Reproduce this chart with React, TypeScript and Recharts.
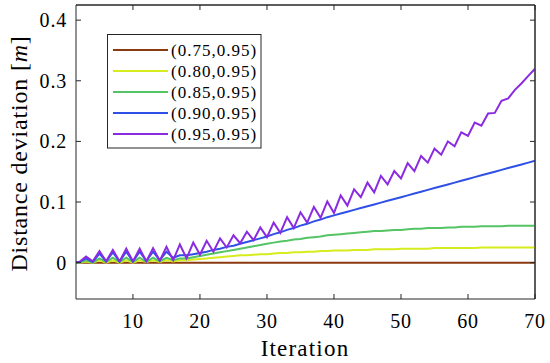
import React from 'react';
import { LineChart, Line, XAxis, YAxis, ReferenceLine } from 'recharts';

const ITERATIONS = [
  1, 2, 3, 4, 5, 6, 7, 8, 9, 10,
  11, 12, 13, 14, 15, 16, 17, 18, 19, 20,
  21, 22, 23, 24, 25, 26, 27, 28, 29, 30,
  31, 32, 33, 34, 35, 36, 37, 38, 39, 40,
  41, 42, 43, 44, 45, 46, 47, 48, 49, 50,
  51, 52, 53, 54, 55, 56, 57, 58, 59, 60,
  61, 62, 63, 64, 65, 66, 67, 68, 69, 70,
];

const S075 = [
  0, 0, 0, 0, 0, 0, 0, 0, 0, 0,
  0, 0, 0, 0, 0, 0, 0, 0, 0, 0,
  0, 0, 0, 0, 0, 0, 0, 0, 0, 0,
  0, 0, 0, 0, 0, 0, 0, 0, 0, 0,
  0, 0, 0, 0, 0, 0, 0, 0, 0, 0,
  0, 0, 0, 0, 0, 0, 0, 0, 0, 0,
  0, 0, 0, 0, 0, 0, 0, 0, 0, 0,
];

const S080 = [
  0, 0, 0.002, 0, 0.004, 0, 0.004, 0, 0.004, 0,
  0.004, 0.001, 0.004, 0.001, 0.004, 0.002, 0.004, 0.004, 0.005, 0.006,
  0.007, 0.008, 0.009, 0.010, 0.011, 0.012, 0.012, 0.013, 0.014, 0.014,
  0.015, 0.016, 0.016, 0.017, 0.017, 0.018, 0.018, 0.019, 0.019, 0.020,
  0.020, 0.020, 0.021, 0.021, 0.021, 0.022, 0.022, 0.022, 0.022, 0.023,
  0.023, 0.023, 0.023, 0.023, 0.024, 0.024, 0.024, 0.024, 0.024, 0.024,
  0.024, 0.025, 0.025, 0.025, 0.025, 0.025, 0.025, 0.025, 0.025, 0.025,
];

const S085 = [
  0, 0, 0.004, 0, 0.007, 0.001, 0.008, 0.001, 0.008, 0.001,
  0.008, 0.001, 0.008, 0.002, 0.008, 0.004, 0.007, 0.007, 0.009, 0.011,
  0.013, 0.015, 0.017, 0.019, 0.021, 0.023, 0.025, 0.027, 0.029, 0.031,
  0.033, 0.035, 0.036, 0.038, 0.039, 0.041, 0.042, 0.043, 0.045, 0.046,
  0.047, 0.048, 0.049, 0.050, 0.051, 0.052, 0.052, 0.053, 0.054, 0.054,
  0.055, 0.056, 0.056, 0.057, 0.057, 0.057, 0.058, 0.058, 0.059, 0.059,
  0.059, 0.060, 0.060, 0.060, 0.060, 0.061, 0.061, 0.061, 0.061, 0.061,
];

const S090 = [
  0, 0.001, 0.007, 0.001, 0.015, 0.002, 0.017, 0.002, 0.018, 0.002,
  0.018, 0.003, 0.018, 0.004, 0.018, 0.008, 0.012, 0.012, 0.014, 0.016,
  0.018, 0.021, 0.023, 0.026, 0.028, 0.031, 0.034, 0.037, 0.040, 0.043,
  0.047, 0.050, 0.054, 0.057, 0.061, 0.064, 0.068, 0.071, 0.075, 0.078,
  0.081, 0.084, 0.087, 0.090, 0.093, 0.096, 0.099, 0.102, 0.105, 0.108,
  0.111, 0.114, 0.117, 0.120, 0.123, 0.126, 0.129, 0.132, 0.135, 0.138,
  0.141, 0.144, 0.147, 0.150, 0.153, 0.156, 0.159, 0.162, 0.165, 0.168,
];

const S095 = [
  0, 0.001, 0.010, 0.002, 0.019, 0.002, 0.021, 0.002, 0.023, 0.002,
  0.023, 0.002, 0.024, 0.003, 0.026, 0.004, 0.030, 0.007, 0.033, 0.013,
  0.036, 0.018, 0.040, 0.025, 0.045, 0.032, 0.051, 0.037, 0.058, 0.042,
  0.066, 0.049, 0.075, 0.057, 0.083, 0.066, 0.092, 0.074, 0.101, 0.082,
  0.111, 0.094, 0.121, 0.108, 0.132, 0.116, 0.143, 0.129, 0.151, 0.139,
  0.164, 0.151, 0.176, 0.165, 0.188, 0.178, 0.200, 0.192, 0.215, 0.209,
  0.231, 0.226, 0.246, 0.247, 0.267, 0.271, 0.285, 0.296, 0.308, 0.320,
];

const SERIES_NAMES = ['(0.75,0.95)', '(0.80,0.95)', '(0.85,0.95)', '(0.90,0.95)', '(0.95,0.95)'];
const SERIES_VALUES = [S075, S080, S085, S090, S095];
const SERIES_COLORS = ['#8a3a10', '#d6ec1c', '#54c464', '#2f50e6', '#8a2be2'];

const X_DOMAIN: [number, number] = [1.5, 70];
const Y_DOMAIN: [number, number] = [-0.06, 0.425];
const X_TICKS = [10, 20, 30, 40, 50, 60, 70];
const Y_TICKS = [0, 0.1, 0.2, 0.3, 0.4];
const Y_TICK_LABELS = ['0', '0.1', '0.2', '0.3', '0.4'];
const X_TITLE = 'Iteration';
const Y_TITLE = 'Distance deviation [';
const Y_TITLE_UNIT = 'm';

const FONT = '"Liberation Serif", "Times New Roman", serif';
const AXIS_COLOR = '#262626';
const TICK_STYLE = { fontFamily: FONT, fontSize: 20, fill: '#000', letterSpacing: 0.8 };
const MARGIN = { top: 0, right: 10, left: 0, bottom: 0 };

const data = ITERATIONS.map((it, i) => {
  const row: Record<string, number> = { it };
  SERIES_VALUES.forEach((s, k) => {
    row['s' + k] = s[i];
  });
  return row;
});

function formatYTick(v: number) {
  const idx = Y_TICKS.indexOf(v);
  return idx >= 0 ? Y_TICK_LABELS[idx] : String(v);
}

function emptyLabel() {
  return '';
}

function Overlay() {
  return (
    <svg
      width={550}
      height={363}
      style={{ position: 'absolute', left: 0, top: 0, pointerEvents: 'none' }}
    >
      <text x={305} y={356} textAnchor="middle" fontFamily={FONT} fontSize={23} letterSpacing={1.2} fill="#000">
        {X_TITLE}
      </text>
      <text
        x={26.5}
        y={153.5}
        transform="rotate(-90, 26.5, 153.5)"
        textAnchor="middle"
        fontFamily={FONT}
        fontSize={24}
        letterSpacing={0.8}
        fill="#000"
      >
        {Y_TITLE}
        <tspan fontStyle="italic">{Y_TITLE_UNIT}</tspan>]
      </text>
      <g transform="translate(107, 34)">
        <rect x={0.5} y={0.5} width={153.5} height={113.5} fill="#ffffff" stroke={AXIS_COLOR} strokeWidth={1} />
        {SERIES_NAMES.map((name, i) => {
          const cy = 16 + i * 21;
          return (
            <g key={name}>
              <line x1={6} x2={61} y1={cy} y2={cy} stroke={SERIES_COLORS[i]} strokeWidth={2} />
              <text x={64} y={cy + 5.5} fontFamily={FONT} fontSize={17} letterSpacing={1} fill="#000">
                {name}
              </text>
            </g>
          );
        })}
      </g>
    </svg>
  );
}

export default function App() {
  return (
    <div style={{ position: 'absolute', left: 0, top: 0, width: 550, height: 363, background: '#fff' }}>
      <LineChart width={550} height={363} data={data} margin={MARGIN}>
        <XAxis
          dataKey="it"
          type="number"
          domain={X_DOMAIN}
          allowDataOverflow
          ticks={X_TICKS}
          interval={0}
          height={64}
          tickSize={-5}
          tickMargin={20}
          stroke={AXIS_COLOR}
          tick={TICK_STYLE}
        />
        <XAxis
          xAxisId="top"
          orientation="top"
          dataKey="it"
          type="number"
          domain={X_DOMAIN}
          allowDataOverflow
          ticks={X_TICKS}
          interval={0}
          height={5}
          tickSize={-5}
          tickFormatter={emptyLabel}
          stroke={AXIS_COLOR}
        />
        <YAxis
          type="number"
          domain={Y_DOMAIN}
          allowDataOverflow
          ticks={Y_TICKS}
          interval={0}
          width={76}
          tickSize={-5}
          tickMargin={14}
          stroke={AXIS_COLOR}
          tickFormatter={formatYTick}
          tick={TICK_STYLE}
        />
        <YAxis
          yAxisId="right"
          orientation="right"
          type="number"
          domain={Y_DOMAIN}
          allowDataOverflow
          ticks={Y_TICKS}
          interval={0}
          width={5}
          tickSize={-5}
          tickFormatter={emptyLabel}
          stroke={AXIS_COLOR}
        />

        <ReferenceLine y={Y_DOMAIN[1]} stroke={AXIS_COLOR} />
        <ReferenceLine x={X_DOMAIN[1]} stroke={AXIS_COLOR} />

        <Line
          xAxisId="top"
          yAxisId="right"
          dataKey="s0"
          stroke="#ffffff"
          strokeOpacity={0}
          strokeWidth={1}
          dot={false}
          isAnimationActive={false}
        />
        {SERIES_NAMES.map((name, k) => (
          <Line
            key={name}
            type="linear"
            dataKey={'s' + k}
            name={name}
            stroke={SERIES_COLORS[k]}
            strokeWidth={2}
            dot={false}
            isAnimationActive={false}
          />
        ))}
      </LineChart>
      <Overlay />
    </div>
  );
}
